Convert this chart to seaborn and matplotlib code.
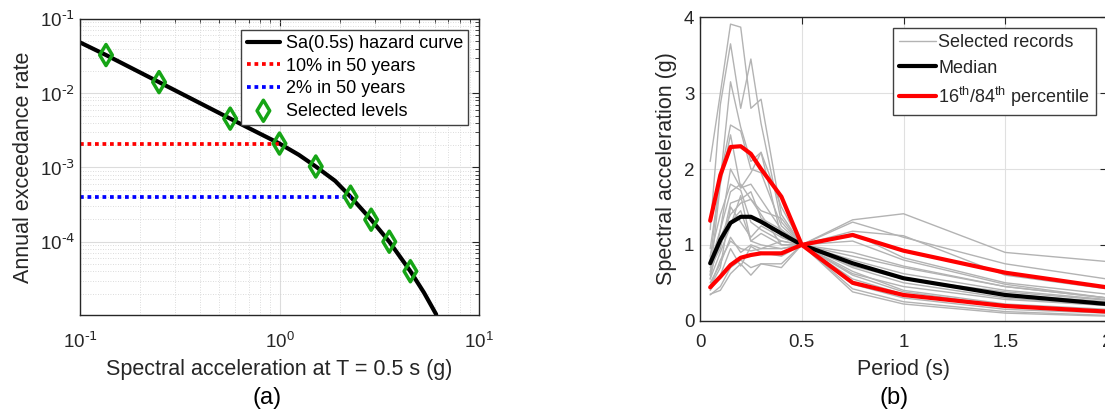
import numpy as np
import pandas as pd
import matplotlib
matplotlib.use("Agg")
import matplotlib.pyplot as plt
import seaborn as sns
from matplotlib.ticker import LogLocator, NullFormatter, FixedLocator, FixedFormatter

sns.set_style("white")
plt.rcParams['font.family'] = ['Liberation Sans', 'DejaVu Sans']
plt.rcParams['mathtext.default'] = 'regular'
plt.rcParams['axes.unicode_minus'] = False

# ---------------- Data: (a) hazard curve ----------------
hazard_sa = [0.1, 0.135, 0.249, 0.4, 0.566, 0.75, 1.0, 1.25, 1.52, 1.9, 2.27, 2.88, 3.55, 4.53, 5.3, 6.1]
hazard_rate = [0.0484, 0.0327, 0.0141, 0.00734, 0.00455, 0.0031, 0.0021, 0.00148, 0.00103,
               0.00066, 0.000404, 0.000198, 0.0001, 0.00004, 0.0000206, 0.0000105]
level_sa = [0.135, 0.249, 0.566, 1.0, 1.52, 2.27, 2.88, 3.55, 4.53]
level_rate = [0.0327, 0.0141, 0.00455, 0.0021, 0.00103, 0.000404, 0.000198, 0.0001, 0.00004]
line10_sa = [0.1, 1.0]
line10_rate = [0.0021, 0.0021]
line2_sa = [0.1, 2.27]
line2_rate = [0.000404, 0.000404]
x_ticks_a = [0.1, 1, 10]
x_ticklabels_a = [r'$10^{\text{-1}}$', r'$10^{0}$', r'$10^{1}$']
y_ticks_a = [1e-4, 1e-3, 1e-2, 1e-1]
y_ticklabels_a = [r'$10^{\text{-4}}$', r'$10^{\text{-3}}$', r'$10^{\text{-2}}$', r'$10^{\text{-1}}$']

# ---------------- Data: (b) spectra ----------------
periods = [0.05, 0.1, 0.15, 0.2, 0.25, 0.3, 0.4, 0.5, 0.75, 1.0, 1.5, 2.0]
records = [
    [2.10, 3.00, 3.91, 3.87, 2.80, 2.92, 1.40, 1.0, 0.85, 0.70, 0.45, 0.30],
    [1.20, 2.85, 3.65, 2.80, 3.45, 2.60, 1.30, 1.0, 0.62, 0.45, 0.28, 0.20],
    [0.95, 1.85, 3.15, 2.55, 2.10, 2.22, 1.10, 1.0, 0.75, 0.55, 0.35, 0.25],
    [0.80, 1.90, 2.58, 2.50, 2.00, 1.95, 1.25, 1.0, 1.33, 1.41, 0.90, 0.78],
    [0.60, 1.80, 2.45, 1.75, 1.80, 1.60, 1.20, 1.0, 1.30, 1.10, 0.75, 0.55],
    [0.55, 1.20, 1.70, 1.80, 1.60, 1.45, 1.35, 1.0, 1.18, 1.12, 0.60, 0.42],
    [0.70, 0.95, 1.55, 1.60, 1.70, 1.35, 1.20, 1.0, 1.15, 0.83, 0.50, 0.35],
    [0.45, 0.70, 1.50, 1.30, 1.10, 1.25, 1.10, 1.0, 1.05, 0.80, 0.48, 0.30],
    [0.65, 1.00, 1.30, 1.45, 1.05, 1.15, 1.00, 1.0, 0.90, 0.72, 0.45, 0.30],
    [0.50, 0.75, 1.10, 0.90, 1.00, 0.95, 1.05, 1.0, 0.80, 0.62, 0.40, 0.28],
    [0.35, 0.40, 0.62, 0.75, 0.60, 0.75, 0.70, 1.0, 0.38, 0.22, 0.10, 0.06],
    [0.34, 0.45, 0.70, 0.80, 0.70, 0.75, 0.75, 1.0, 0.42, 0.25, 0.12, 0.07],
    [0.40, 0.60, 0.95, 0.72, 0.98, 0.90, 0.85, 1.0, 0.48, 0.30, 0.15, 0.10],
    [0.55, 0.90, 1.25, 1.65, 1.05, 1.00, 0.95, 1.0, 0.55, 0.35, 0.18, 0.12],
    [0.85, 1.40, 1.80, 1.72, 1.30, 1.20, 1.05, 1.0, 0.70, 0.50, 0.30, 0.20],
    [0.60, 1.10, 1.40, 1.55, 1.60, 1.40, 1.00, 1.0, 0.65, 0.40, 0.22, 0.15],
    [0.45, 0.80, 1.05, 0.95, 0.92, 0.95, 0.95, 1.0, 0.72, 0.55, 0.38, 0.27],
    [0.75, 1.20, 2.00, 1.75, 1.95, 2.22, 1.50, 1.0, 0.60, 0.38, 0.20, 0.13],
]
median = [0.757, 1.064, 1.29, 1.37, 1.37, 1.305, 1.15, 1.0, 0.757, 0.56, 0.339, 0.22]
p84 = [1.318, 1.92, 2.29, 2.30, 2.20, 2.00, 1.635, 1.0, 1.13, 0.923, 0.633, 0.44]
p16 = [0.44, 0.58, 0.734, 0.83, 0.866, 0.888, 0.888, 1.0, 0.50, 0.339, 0.194, 0.12]
x_ticks_b = [0, 0.5, 1, 1.5, 2]
x_ticklabels_b = ['0', '0.5', '1', '1.5', '2']
y_ticks_b = [0, 1, 2, 3, 4]

W, H = 1105, 412
fig = plt.figure(figsize=(W / 100, H / 100), dpi=100)
axc = '#262626'
TICK = 13.5
LEG = 13
LAB = 15.5

def box(l, t, r, b):
    return [l / W, (H - b) / H, (r - l) / W, (b - t) / H]

# ---------------- (a) ----------------
ax1 = fig.add_axes(box(80, 19, 479, 315))
ax1.set_xscale('log')
ax1.set_yscale('log')
sns.lineplot(x=hazard_sa, y=hazard_rate, ax=ax1, color='black', lw=3,
             estimator=None, sort=False, label='Sa(0.5s) hazard curve')
sns.lineplot(x=line10_sa, y=line10_rate, ax=ax1, color='#ff0000', lw=2.7,
             estimator=None, label='10% in 50 years', dashes=False)
sns.lineplot(x=line2_sa, y=line2_rate, ax=ax1, color='#0000ff', lw=2.7,
             estimator=None, label='2% in 50 years', dashes=False)
ax1.lines[1].set_linestyle((0, (1, 1)))
ax1.lines[2].set_linestyle((0, (1, 1)))
sns.scatterplot(x=level_sa, y=level_rate, ax=ax1, marker='d', s=115,
                facecolor='none', edgecolor='#16a516', linewidth=2.5,
                label='Selected levels', zorder=5)
ax1.set_xlim(0.1, 10)
ax1.set_ylim(1.03e-5, 0.1)
ax1.xaxis.set_major_locator(FixedLocator(x_ticks_a))
ax1.xaxis.set_major_formatter(FixedFormatter(x_ticklabels_a))
ax1.yaxis.set_major_locator(FixedLocator(y_ticks_a))
ax1.yaxis.set_major_formatter(FixedFormatter(y_ticklabels_a))
ax1.yaxis.set_minor_locator(LogLocator(base=10, subs=np.arange(2, 10), numticks=20))
ax1.xaxis.set_minor_locator(LogLocator(base=10, subs=np.arange(2, 10), numticks=20))
ax1.yaxis.set_minor_formatter(NullFormatter())
ax1.xaxis.set_minor_formatter(NullFormatter())
ax1.grid(True, which='major', color='#dcdcdc', lw=0.8)
ax1.grid(True, which='minor', color='#d0d0d0', lw=0.6, ls=(0, (1, 2)))
ax1.set_xlabel('Spectral acceleration at T = 0.5 s (g)', fontsize=LAB, color=axc, labelpad=5)
ax1.set_ylabel('Annual exceedance rate', fontsize=LAB, color=axc, labelpad=4)
ax1.tick_params(which='both', direction='in', top=True, right=True, colors=axc,
                labelsize=TICK)
ax1.tick_params(axis='x', which='major', pad=12)
ax1.tick_params(axis='y', which='major', pad=3.5)
ax1.tick_params(which='major', length=5)
ax1.tick_params(which='minor', length=3)
for s in ax1.spines.values():
    s.set_color(axc)
    s.set_linewidth(1.0)
leg1 = ax1.legend(loc='upper right', fontsize=LEG, frameon=True, fancybox=False,
                  edgecolor='#404040', framealpha=1, handlelength=1.85,
                  handletextpad=0.3, labelspacing=0.3, borderpad=0.3,
                  borderaxespad=0.6)
leg1.get_frame().set_linewidth(1.0)
for t in leg1.get_texts():
    t.set_color('black')

# ---------------- (b) ----------------
ax2 = fig.add_axes(box(700, 17.3, 1107, 320.7))
for i, rec in enumerate(records):
    sns.lineplot(x=periods, y=rec, ax=ax2, color='#b3b3b3', lw=1.0, estimator=None,
                 label='Selected records' if i == 0 else None, legend=(i == 0))
sns.lineplot(x=periods, y=median, ax=ax2, color='black', lw=3, estimator=None, label='Median')
sns.lineplot(x=periods, y=p84, ax=ax2, color='#ff0000', lw=3, estimator=None,
             label=r'16$^{th}$/84$^{th}$ percentile')
sns.lineplot(x=periods, y=p16, ax=ax2, color='#ff0000', lw=3, estimator=None, legend=False)
ax2.set_xlim(0, 2)
ax2.set_ylim(0, 4)
ax2.set_xticks(x_ticks_b)
ax2.set_xticklabels(x_ticklabels_b)
ax2.set_yticks(y_ticks_b)
ax2.grid(True, which='major', color='#e0e0e0', lw=0.8)
ax2.set_xlabel('Period (s)', fontsize=LAB, color=axc, labelpad=6)
ax2.set_ylabel('Spectral acceleration (g)', fontsize=LAB, color=axc, labelpad=5)
ax2.tick_params(which='both', direction='in', top=True, right=True, colors=axc,
                labelsize=TICK, length=5)
ax2.tick_params(axis='x', pad=9.5)
ax2.tick_params(axis='y', pad=4)
for s in ax2.spines.values():
    s.set_color(axc)
    s.set_linewidth(1.0)
h, l = ax2.get_legend_handles_labels()
leg2 = ax2.legend(h[:3], l[:3], loc='upper right', fontsize=LEG, frameon=True, fancybox=False,
                  edgecolor='#404040', framealpha=1, handlelength=2.0,
                  handletextpad=0.15, labelspacing=0.45, borderpad=0.35,
                  borderaxespad=0.6)
leg2.get_frame().set_linewidth(1.0)

fig.text(267 / W, 1 - 398 / H, '(a)', fontsize=17, ha='center', va='center', color='black')
fig.text(894 / W, 1 - 398 / H, '(b)', fontsize=17, ha='center', va='center', color='black')

fig.savefig('out.png', dpi=100)
